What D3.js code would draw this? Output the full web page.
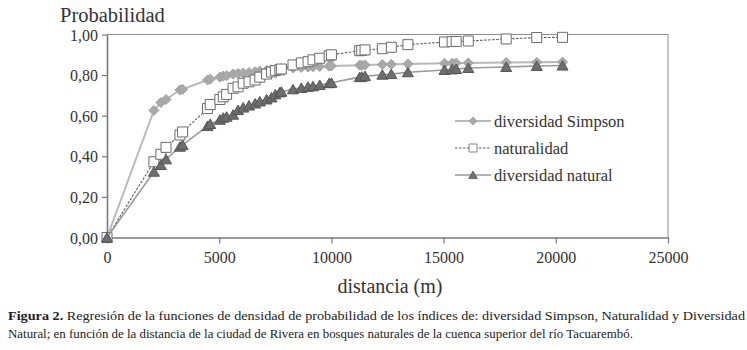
<!DOCTYPE html>
<html>
<head>
<meta charset="utf-8">
<script src="https://cdn.jsdelivr.net/npm/d3@7"></script>
<style>
  body { margin: 0; background: #fff; }
  svg { display: block; }
</style>
</head>
<body>
<svg id="chart" width="747" height="350"></svg>
<script>
// distances (m) shared by the three series
const distancia = [0, 2090, 2400, 2630, 3250, 3370, 4480, 4600, 5030, 5180, 5330, 5620, 5840, 6070, 6330,
  6600, 6810, 7110, 7330, 7500, 7700, 7770, 8290, 8660, 8960, 9180, 9480, 9900, 10000, 11260, 11350,
  11500, 12270, 12670, 13410, 15040, 15380, 15560, 16100, 17790, 19150, 20300];

const simpson = [0, 0.626, 0.665, 0.68, 0.727, 0.73, 0.776, 0.78, 0.79, 0.795, 0.797, 0.805, 0.808, 0.81, 0.813,
  0.817, 0.82, 0.823, 0.826, 0.828, 0.83, 0.831, 0.835, 0.838, 0.84, 0.841, 0.842, 0.844, 0.845, 0.849, 0.849,
  0.85, 0.852, 0.853, 0.855, 0.858, 0.858, 0.859, 0.86, 0.862, 0.863, 0.864];

const naturalidad = [0, 0.373, 0.41, 0.444, 0.505, 0.52, 0.635, 0.655, 0.68, 0.693, 0.705, 0.735, 0.742, 0.76, 0.767,
  0.776, 0.79, 0.805, 0.815, 0.822, 0.826, 0.83, 0.85, 0.86, 0.866, 0.875, 0.883, 0.895, 0.9, 0.92, 0.922,
  0.924, 0.93, 0.937, 0.95, 0.963, 0.965, 0.966, 0.968, 0.978, 0.985, 0.986];

const diversidadNatural = [0, 0.324, 0.357, 0.385, 0.447, 0.456, 0.549, 0.559, 0.58, 0.59, 0.595, 0.605, 0.628, 0.64, 0.65,
  0.66, 0.67, 0.68, 0.69, 0.705, 0.715, 0.718, 0.73, 0.737, 0.742, 0.745, 0.751, 0.76, 0.762, 0.79, 0.792,
  0.795, 0.802, 0.805, 0.814, 0.825, 0.828, 0.83, 0.835, 0.84, 0.845, 0.847];

const seriesNames = ["diversidad Simpson", "naturalidad", "diversidad natural"];
const xTicks = [0, 5000, 10000, 15000, 20000, 25000];
const yTicks = [0, 0.2, 0.4, 0.6, 0.8, 1.0];

const captionBold = "Figura 2.";
const captionLine1 = " Regresión de la funciones de densidad de probabilidad de los índices de: diversidad Simpson, Naturalidad y Diversidad";
const captionLine2 = "Natural; en función de la distancia de la ciudad de Rivera en bosques naturales de la cuenca superior del río Tacuarembó.";

const serif = "'Liberation Serif', 'DejaVu Serif', serif";
const svg = d3.select("#chart");

const plotL = 107, plotR = 668, plotT = 34.5, plotB = 237.5;

const x = d3.scaleLinear().domain([0, 25000]).range([plotL, plotR]);
const y = d3.scaleLinear().domain([0, 1]).range([plotB, plotT]);

const fmtY = d => d3.format(".2f")(d).replace(".", ",");

// plot frame (top and right)
svg.append("path")
  .attr("d", `M${plotL},${plotT}H${plotR}V${plotB}`)
  .attr("fill", "none")
  .attr("stroke", "#8c8c8c")
  .attr("stroke-width", 1);

// axes
const yAxis = svg.append("g")
  .attr("transform", `translate(${plotL},0)`)
  .call(d3.axisLeft(y).tickValues(yTicks).tickFormat(fmtY).tickSize(5).tickSizeOuter(0));

const xAxis = svg.append("g")
  .attr("transform", `translate(0,${plotB})`)
  .call(d3.axisBottom(x).tickValues(xTicks).tickFormat(d3.format("d")).tickSize(6).tickSizeOuter(0));

[yAxis, xAxis].forEach(a => {
  a.select(".domain").attr("stroke", "#7a7a7a").attr("stroke-width", 1.6);
  a.selectAll(".tick line").attr("stroke", "#7a7a7a").attr("stroke-width", 1.2);
  a.selectAll(".tick text")
    .attr("fill", "#333")
    .style("font-family", serif)
    .style("font-size", "16px");
});
yAxis.selectAll(".tick text").attr("x", -9).attr("dy", "0.35em");
xAxis.selectAll(".tick text").attr("y", 13).attr("dy", "0.75em");

// axis titles
svg.append("text")
  .attr("x", 60).attr("y", 22)
  .style("font-family", serif).style("font-size", "20.5px").attr("fill", "#333")
  .text("Probabilidad");

svg.append("text")
  .attr("x", 390).attr("y", 293)
  .attr("text-anchor", "middle")
  .style("font-family", serif).style("font-size", "20px").attr("fill", "#333")
  .text("distancia (m)");

// marker shapes
const markers = {
  diamond: "M0,-5L5,0L0,5L-5,0Z",
  square: "M-5,-5H5V5H-5Z",
  triangle: "M0,-5L5.5,4.5H-5.5Z"
};

const series = [
  { name: seriesNames[0], values: simpson, line: "#b9b9b9", lw: 2, dash: null,
    marker: markers.diamond, fill: "#a9a9a9", stroke: "#a0a0a0" },
  { name: seriesNames[1], values: naturalidad, line: "#5a5a5a", lw: 1.1, dash: "2.5,1.5",
    marker: markers.square, fill: "#ffffff", stroke: "#6a6a6a" },
  { name: seriesNames[2], values: diversidadNatural, line: "#9a9a9a", lw: 1.6, dash: null,
    marker: markers.triangle, fill: "#6e6e6e", stroke: "#555" }
];

const line = d3.line().x(d => x(d[0])).y(d => y(d[1]));

series.forEach(s => {
  const pts = distancia.map((d, i) => [d, s.values[i]]);
  const g = svg.append("g");
  g.append("path")
    .attr("d", line(pts))
    .attr("fill", "none")
    .attr("stroke", s.line)
    .attr("stroke-width", s.lw)
    .attr("stroke-dasharray", s.dash);
  g.selectAll("path.m")
    .data(pts)
    .join("path")
    .attr("class", "m")
    .attr("d", s.marker)
    .attr("transform", d => `translate(${x(d[0])},${y(d[1])})`)
    .attr("fill", s.fill)
    .attr("stroke", s.stroke)
    .attr("stroke-width", 1);
});

// legend
const legend = svg.append("g").attr("transform", "translate(455,0)");
const legendY = [121, 148, 175];
series.forEach((s, i) => {
  const row = legend.append("g").attr("transform", `translate(0,${legendY[i]})`);
  row.append("line")
    .attr("x1", 0).attr("x2", 36)
    .attr("stroke", s.line)
    .attr("stroke-width", s.lw)
    .attr("stroke-dasharray", s.dash);
  row.append("path")
    .attr("d", s.marker)
    .attr("transform", "translate(18,0) scale(0.8)")
    .attr("fill", s.fill)
    .attr("stroke", s.stroke);
  row.append("text")
    .attr("x", 39).attr("dy", "0.35em")
    .style("font-family", serif).style("font-size", "16.5px").attr("fill", "#333")
    .text(s.name);
});

// caption
const cap1 = svg.append("text")
  .attr("x", 8).attr("y", 320)
  .attr("textLength", 737).attr("lengthAdjust", "spacingAndGlyphs")
  .style("font-family", serif).style("font-size", "13.5px").attr("fill", "#222");
cap1.append("tspan").attr("font-weight", "bold").text(captionBold);
cap1.append("tspan").text(captionLine1);

svg.append("text")
  .attr("x", 8).attr("y", 338)
  .attr("textLength", 625).attr("lengthAdjust", "spacingAndGlyphs")
  .style("font-family", serif).style("font-size", "13.5px").attr("fill", "#222")
  .text(captionLine2);
</script>
</body>
</html>
